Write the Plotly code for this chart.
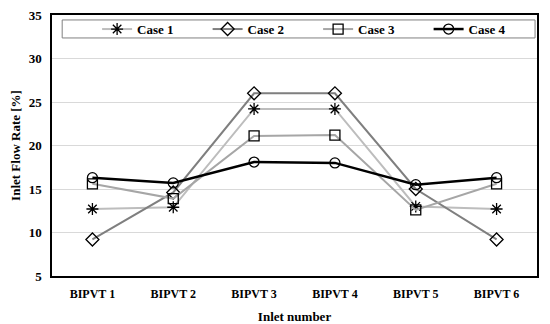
import plotly.graph_objects as go

categories = ["BIPVT 1", "BIPVT 2", "BIPVT 3", "BIPVT 4", "BIPVT 5", "BIPVT 6"]
case1 = [12.7, 12.9, 24.2, 24.2, 13.0, 12.7]
case2 = [9.2, 14.6, 26.0, 26.0, 15.0, 9.2]
case3 = [15.6, 13.9, 21.1, 21.2, 12.6, 15.6]
case4 = [16.3, 15.7, 18.1, 18.0, 15.5, 16.3]

series = [
    ("Case 1", case1, "#bdbdbd", "asterisk-open", 2),
    ("Case 2", case2, "#7f7f7f", "diamond-open", 2),
    ("Case 3", case3, "#a6a6a6", "square-open", 2),
    ("Case 4", case4, "#000000", "circle-open", 2.5),
]

FONT = "Liberation Serif"
fig = go.Figure()
for name, vals, col, sym, w in series:
    fig.add_trace(go.Scatter(
        x=categories, y=vals, name=name, mode="lines+markers",
        line=dict(color=col, width=w),
        marker=dict(symbol=sym, size=10, color="black", line=dict(color="black", width=1.3)),
    ))

fig.add_shape(type="rect", xref="paper", yref="paper",
              x0=0.021, x1=0.996, y0=0.912, y1=0.981,
              line=dict(color="#808080", width=1), fillcolor="rgba(0,0,0,0)")

# page body adds an 8px offset, so the figure is 8px smaller and margins shifted
fig.update_layout(
    width=542, height=316,
    margin=dict(l=44, r=13, t=7, b=48, autoexpand=False),
    paper_bgcolor="white", plot_bgcolor="white",
    font=dict(family=FONT, size=12, color="black", weight="bold"),
    showlegend=True,
    legend=dict(orientation="h", x=0.093, y=0.946, xanchor="left", yanchor="middle",
                entrywidth=65.5, entrywidthmode="pixels",
                bgcolor="rgba(0,0,0,0)", borderwidth=0,
                font=dict(family=FONT, size=13, color="black", weight="bold"),
                itemwidth=30),
    xaxis=dict(type="category", range=[-0.5, 5.5], showgrid=False, automargin=False,
               showline=True, linecolor="black", linewidth=1.5, mirror=True,
               ticks="", ticklabelstandoff=6, ticklabeloverflow="allow",
               tickfont=dict(family=FONT, size=12, weight="bold"),
               title=dict(text="Inlet number", font=dict(family=FONT, size=13, weight="bold"), standoff=16)),
    yaxis=dict(range=[5, 35], dtick=5, showgrid=True, gridcolor="#d9d9d9", gridwidth=1, automargin=False,
               showline=True, linecolor="black", linewidth=1.5, mirror=True,
               ticks="", zeroline=False, ticklabelstandoff=6, ticklabeloverflow="allow",
               tickfont=dict(family=FONT, size=13, weight="bold"),
               title=dict(text="Inlet Flow Rate [%]", font=dict(family=FONT, size=13, weight="bold"), standoff=8)),
)

fig.write_html("out.html")
